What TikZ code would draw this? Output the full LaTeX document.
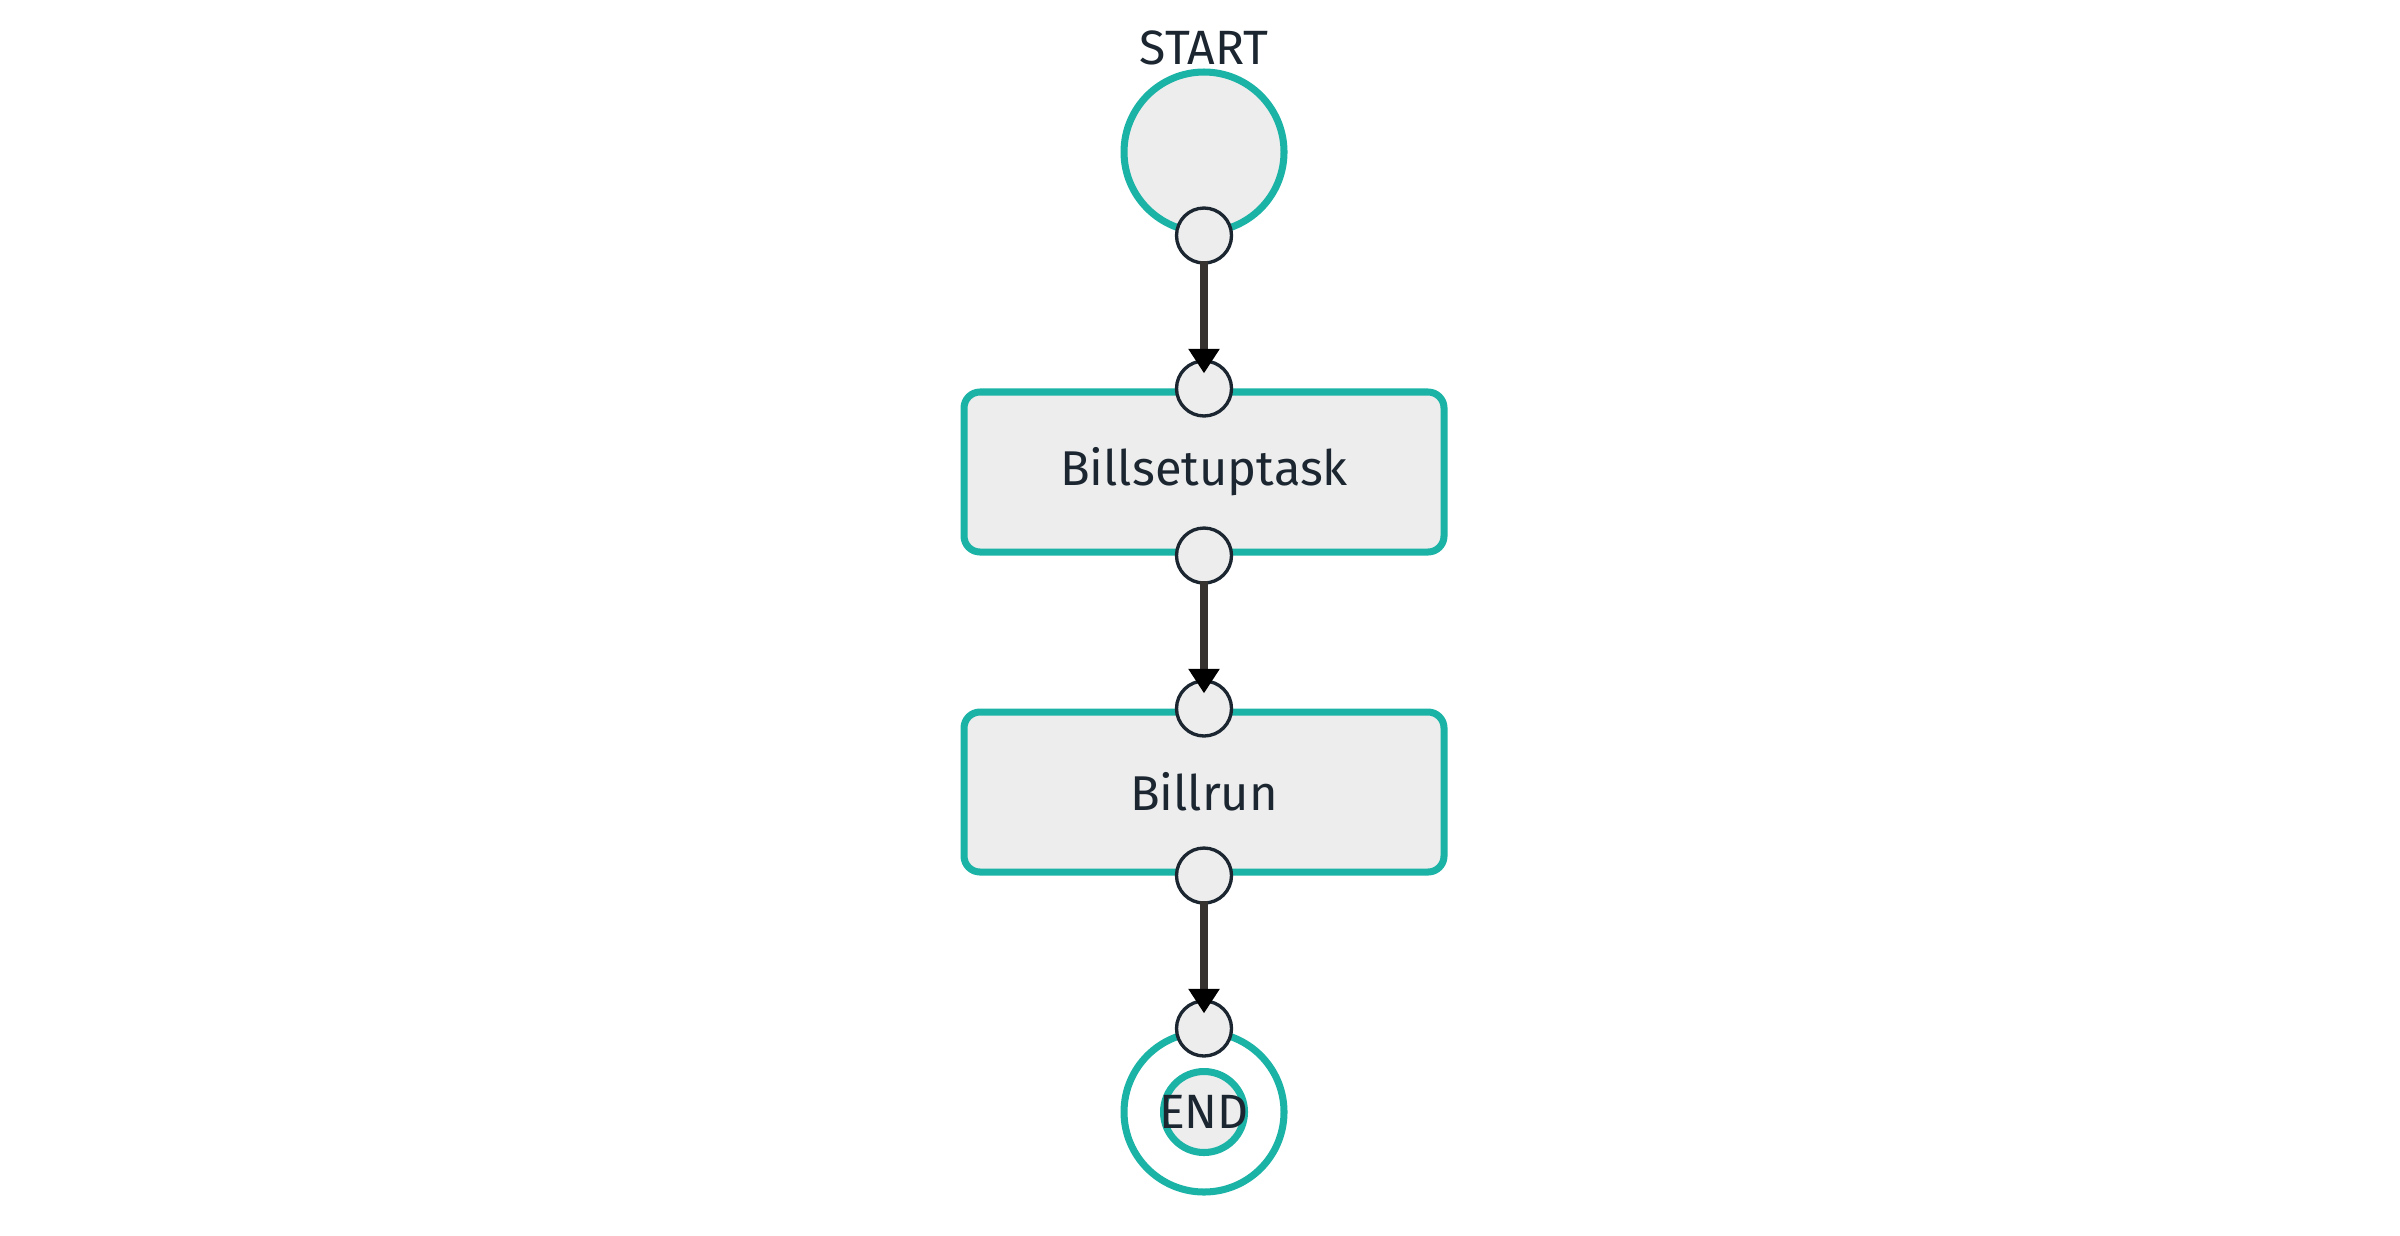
\documentclass[tikz,border=0pt]{standalone}
\usepackage{fontspec}
\setmainfont{Fira Sans}
\usetikzlibrary{arrows.meta}
\definecolor{tealline}{HTML}{1BB3A6}
\definecolor{boxfill}{HTML}{EDEDED}
\definecolor{inkdark}{HTML}{1B2631}
\definecolor{flowline}{HTML}{363230}
\begin{document}
\begin{tikzpicture}[
  statebox/.style={rectangle, rounded corners=0.16cm, draw=tealline, line width=2pt, fill=boxfill, minimum width=4.8cm, minimum height=1.6cm, inner sep=0pt, text=inkdark, font=\fontsize{13.9}{17}\selectfont},
  startdot/.style={circle, draw=tealline, line width=2pt, fill=boxfill, minimum size=1.6cm, inner sep=0pt},
  port/.style={circle, draw=inkdark, line width=0.95pt, fill=boxfill, minimum size=0.55cm, inner sep=0pt},
  flow/.style={flowline, line width=2.1pt, -{Triangle[width=8.5pt,length=7pt,black]}, shorten >=-4pt},
  tag/.style={text=inkdark, font=\fontsize{13.7}{16}\selectfont, inner sep=0pt}
]
\useasboundingbox (0,0) rectangle (24,-12.35);

% start
\node (start) at (12.04,-1.52) [startdot]{};
\node (startlabel) at (12.04,-0.48) [tag]{START};

% tasks
\node (setup) at (12.04,-4.72) [statebox]{Billsetuptask};
\node (run) at (12.04,-7.92) [statebox]{Billrun};

% end
\node (endring) at (12.04,-11.12) [startdot, fill=white]{};
\node (endcore) at (endring.center) [startdot, minimum size=0.81cm]{};
\node (endlabel) at (endring.center) [tag]{END};

% ports
\node (p1) at (start.south) [port]{};
\node (p2) at (setup.north) [port]{};
\node (p3) at (setup.south) [port]{};
\node (p4) at (run.north) [port]{};
\node (p5) at (run.south) [port]{};
\node (p6) at (endring.north) [port]{};

\draw[flow] (p1.center) ++(0,-0.25) coordinate (c1) (c1)--(p2.north);
\draw[flow] (p3.center) ++(0,-0.25) coordinate (c3) (c3)--(p4.north);
\draw[flow] (p5.center) ++(0,-0.25) coordinate (c5) (c5)--(p6.north);

\end{tikzpicture}
\end{document}
